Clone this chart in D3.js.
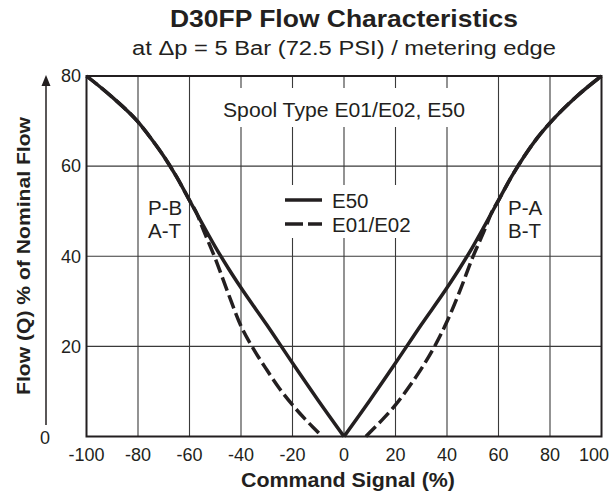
<!DOCTYPE html>
<html>
<head>
<meta charset="utf-8">
<script src="https://cdn.jsdelivr.net/npm/d3@7"></script>
<style>
  body { margin: 0; background: #fff; }
  text { font-family: "Liberation Sans", Arial, Helvetica, sans-serif; fill: #231f20; }
</style>
</head>
<body>
<div id="chart"></div>
<script>
// command signal (%) and flow (% of nominal), each half
const signalLeftE50 = [-100, -90, -80, -75, -70, -65, -60, -55, -50, -45, -40, -30, -20, -10, 0];
const flowLeftE50 = [80, 75.3, 69.8, 66.2, 62.2, 57.6, 52.4, 47.2, 42.1, 37.4, 33, 24.8, 16.3, 8, 0];
const signalRightE50 = [0, 10, 20, 30, 40, 45, 50, 55, 60, 65, 70, 75, 80, 90, 100];
const flowRightE50 = [0, 8, 16.3, 24.8, 33, 37.4, 42.1, 47.2, 52.4, 57.6, 62.2, 66.2, 69.6, 75.3, 80];

const signalLeftE01 = [-100, -90, -80, -75, -70, -65, -60, -57, -55, -50, -45, -40, -35, -30, -25, -20, -15, -10, -8.5];
const flowLeftE01 = [80, 75.3, 69.8, 66.2, 62.2, 57.6, 52.4, 49.3, 46.4, 39.5, 31.8, 24.5, 19.3, 14.8, 10.6, 7, 3.8, 0.9, 0];
const signalRightE01 = [8.5, 10, 15, 20, 25, 30, 35, 40, 45, 50, 55, 57, 60, 65, 70, 75, 80, 90, 100];
const flowRightE01 = [0, 0.9, 3.8, 7, 10.8, 15, 19.8, 25.5, 32.3, 39.8, 46.4, 49.3, 52.4, 57.6, 62.2, 66.2, 69.6, 75.3, 80];

const xTicks = [-100, -80, -60, -40, -20, 0, 20, 40, 60, 80, 100];
const yTicks = [20, 40, 60, 80];

const ink = "#231f20";
const gridColor = "#3a3a3a";

const width = 611, height = 494;
const svg = d3.select('#chart').append('svg')
  .attr('width', width)
  .attr('height', height);

const x = d3.scaleLinear().domain([-100, 100]).range([86.5, 601.5]);
const y = d3.scaleLinear().domain([0, 80]).range([436.5, 76]);

// grid
svg.append('g')
  .selectAll('line')
  .data(xTicks.slice(1, -1))
  .join('line')
  .attr('x1', d => x(d)).attr('x2', d => x(d))
  .attr('y1', y(0)).attr('y2', y(80))
  .attr('stroke', gridColor).attr('stroke-width', 1.1);

svg.append('g')
  .selectAll('line')
  .data(yTicks.slice(0, -1))
  .join('line')
  .attr('x1', x(-100)).attr('x2', x(100))
  .attr('y1', d => y(d)).attr('y2', d => y(d))
  .attr('stroke', gridColor).attr('stroke-width', 1.1);

// titles
svg.append('text')
  .attr('x', 344).attr('y', 27)
  .attr('text-anchor', 'middle')
  .attr('textLength', 348).attr('lengthAdjust', 'spacingAndGlyphs')
  .style('font-size', '24px').style('font-weight', 'bold')
  .text('D30FP Flow Characteristics');

svg.append('text')
  .attr('x', 344).attr('y', 55)
  .attr('text-anchor', 'middle')
  .attr('textLength', 424).attr('lengthAdjust', 'spacingAndGlyphs')
  .style('font-size', '20px')
  .text('at \u0394p = 5 Bar (72.5 PSI) / metering edge');

// spool type label with white box
const spool = svg.append('g');
const spoolBox = spool.append('rect').attr('fill', '#fff');
const spoolText = spool.append('text')
  .attr('x', 344).attr('y', 116.5)
  .attr('text-anchor', 'middle')
  .attr('textLength', 242).attr('lengthAdjust', 'spacingAndGlyphs')
  .style('font-size', '20.5px')
  .text('Spool Type E01/E02, E50');
const sb = spoolText.node().getBBox();
spoolBox.attr('x', sb.x - 12).attr('y', 88).attr('width', sb.width + 24).attr('height', 39);

// legend
const legend = svg.append('g');
legend.append('rect')
  .attr('x', 276).attr('y', 185).attr('width', 160).attr('height', 53)
  .attr('fill', '#fff');
const legendItems = [
  { name: 'E50', dash: null, y: 200 },
  { name: 'E01/E02', dash: '18,5', y: 224 }
];
legendItems.forEach(it => {
  legend.append('line')
    .attr('x1', 285).attr('x2', 322)
    .attr('y1', it.y).attr('y2', it.y)
    .attr('stroke', ink).attr('stroke-width', 3.5)
    .attr('stroke-dasharray', it.dash);
  legend.append('text')
    .attr('x', 332).attr('y', it.y + 7.5)
    .style('font-size', '20.5px')
    .text(it.name);
});

// frame
svg.append('rect')
  .attr('x', x(-100)).attr('y', y(80))
  .attr('width', x(100) - x(-100)).attr('height', y(0) - y(80))
  .attr('fill', 'none').attr('stroke', ink).attr('stroke-width', 2);

// curves
const line = d3.line()
  .x(d => x(d[0]))
  .y(d => y(d[1]))
  .curve(d3.curveMonotoneX);

[[signalLeftE01, flowLeftE01], [signalRightE01, flowRightE01]].forEach(([s, f]) => {
  svg.append('path')
    .datum(d3.zip(s, f))
    .attr('d', line)
    .attr('fill', 'none').attr('stroke', ink).attr('stroke-width', 3.5)
    .attr('stroke-dasharray', '14,5');
});

[[signalLeftE50, flowLeftE50], [signalRightE50, flowRightE50]].forEach(([s, f]) => {
  svg.append('path')
    .datum(d3.zip(s, f))
    .attr('d', line)
    .attr('fill', 'none').attr('stroke', ink).attr('stroke-width', 3.5)
    .attr('stroke-linejoin', 'round');
});

// port labels
[['P-B', 'A-T', 148], ['P-A', 'B-T', 508]].forEach(([a, b, lx]) => {
  svg.append('text').attr('x', lx).attr('y', 215).style('font-size', '20.5px').text(a);
  svg.append('text').attr('x', lx).attr('y', 238).style('font-size', '20.5px').text(b);
});

// x axis labels
svg.append('g')
  .selectAll('text')
  .data(xTicks)
  .join('text')
  .attr('x', d => d === 100 ? 609 : x(d))
  .attr('y', 461)
  .attr('text-anchor', d => d === 100 ? 'end' : 'middle')
  .style('font-size', '18px')
  .text(d => d);

svg.append('text')
  .attr('x', 348).attr('y', 487)
  .attr('text-anchor', 'middle')
  .attr('textLength', 214).attr('lengthAdjust', 'spacingAndGlyphs')
  .style('font-size', '19.5px').style('font-weight', 'bold')
  .text('Command Signal (%)');

// y axis: arrow, labels, title
svg.append('line')
  .attr('x1', 46).attr('x2', 46)
  .attr('y1', 425).attr('y2', 84)
  .attr('stroke', ink).attr('stroke-width', 1.5);
svg.append('path')
  .attr('d', 'M46,75 L41.5,86 L50.5,86 Z')
  .attr('fill', ink);

svg.append('g')
  .selectAll('text')
  .data(yTicks)
  .join('text')
  .attr('x', 81)
  .attr('y', d => y(d))
  .attr('dy', '0.35em')
  .attr('text-anchor', 'end')
  .style('font-size', '18px')
  .text(d => d);

svg.append('text')
  .attr('x', 45).attr('y', 444)
  .attr('text-anchor', 'middle')
  .style('font-size', '18px')
  .text('0');

svg.append('text')
  .attr('transform', 'translate(30,256) rotate(-90)')
  .attr('text-anchor', 'middle')
  .attr('textLength', 278).attr('lengthAdjust', 'spacingAndGlyphs')
  .style('font-size', '19px').style('font-weight', 'bold')
  .text('Flow (Q) % of Nominal Flow');
</script>
</body>
</html>
